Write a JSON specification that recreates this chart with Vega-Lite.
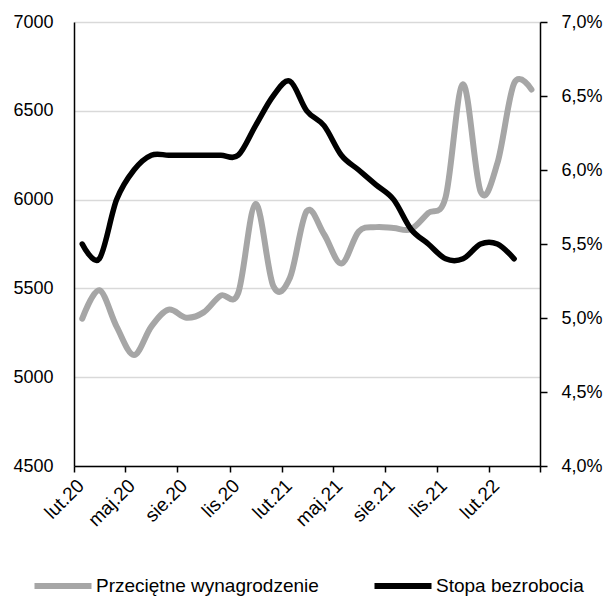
{
  "$schema": "https://vega.github.io/schema/vega-lite/v6.json",
  "width": 466,
  "height": 444,
  "autosize": {"type": "none"},
  "padding": {"left": 74, "top": 22, "right": 65, "bottom": 131},
  "config": {
    "font": "Liberation Sans",
    "view": {"stroke": null},
    "axis": {
      "labelFontSize": 18,
      "labelColor": "#000000",
      "labelFont": "Liberation Sans",
      "domainColor": "#000000",
      "domainWidth": 1.5,
      "tickColor": "#000000",
      "tickWidth": 1.5,
      "gridColor": "#d9d9d9",
      "gridWidth": 1.5,
      "title": null
    }
  },
  "data": {
    "values": [
      {"date": "2020-02-01", "wage": 5330, "rate": 5.5},
      {"date": "2020-03-01", "wage": 5490, "rate": 5.4},
      {"date": "2020-04-01", "wage": 5285, "rate": 5.8},
      {"date": "2020-05-01", "wage": 5125, "rate": 6.0},
      {"date": "2020-06-01", "wage": 5285, "rate": 6.1},
      {"date": "2020-07-01", "wage": 5380, "rate": 6.1},
      {"date": "2020-08-01", "wage": 5335, "rate": 6.1},
      {"date": "2020-09-01", "wage": 5365, "rate": 6.1},
      {"date": "2020-10-01", "wage": 5460, "rate": 6.1},
      {"date": "2020-11-01", "wage": 5475, "rate": 6.1},
      {"date": "2020-12-01", "wage": 5975, "rate": 6.3},
      {"date": "2021-01-01", "wage": 5515, "rate": 6.5},
      {"date": "2021-02-01", "wage": 5560, "rate": 6.6},
      {"date": "2021-03-01", "wage": 5935, "rate": 6.4},
      {"date": "2021-04-01", "wage": 5805, "rate": 6.3},
      {"date": "2021-05-01", "wage": 5640, "rate": 6.1},
      {"date": "2021-06-01", "wage": 5820, "rate": 6.0},
      {"date": "2021-07-01", "wage": 5845, "rate": 5.9},
      {"date": "2021-08-01", "wage": 5840, "rate": 5.8},
      {"date": "2021-09-01", "wage": 5833, "rate": 5.6},
      {"date": "2021-10-01", "wage": 5925, "rate": 5.5},
      {"date": "2021-11-01", "wage": 6015, "rate": 5.4},
      {"date": "2021-12-01", "wage": 6650, "rate": 5.4},
      {"date": "2022-01-01", "wage": 6045, "rate": 5.5},
      {"date": "2022-02-01", "wage": 6205, "rate": 5.5},
      {"date": "2022-03-01", "wage": 6655, "rate": 5.4},
      {"date": "2022-04-01", "wage": 6620, "rate": null}
    ]
  },
  "encoding": {
    "x": {
      "field": "date",
      "type": "temporal",
      "timeUnit": "utcyearmonth",
      "bandPosition": 0.5,
      "scale": {
        "type": "utc",
        "nice": false,
        "domain": [
          {"year": 2020, "month": 2, "date": 1, "utc": true},
          {"year": 2022, "month": 5, "date": 1, "utc": true}
        ]
      },
      "axis": {
        "values": [
          {"year": 2020, "month": 2, "date": 1, "utc": true},
          {"year": 2020, "month": 5, "date": 1, "utc": true},
          {"year": 2020, "month": 8, "date": 1, "utc": true},
          {"year": 2020, "month": 11, "date": 1, "utc": true},
          {"year": 2021, "month": 2, "date": 1, "utc": true},
          {"year": 2021, "month": 5, "date": 1, "utc": true},
          {"year": 2021, "month": 8, "date": 1, "utc": true},
          {"year": 2021, "month": 11, "date": 1, "utc": true},
          {"year": 2022, "month": 2, "date": 1, "utc": true},
          {"year": 2022, "month": 5, "date": 1, "utc": true}
        ],
        "grid": false,
        "tickSize": 6,
        "labelAngle": -45,
        "labelFontSize": 19,
        "labelOffset": 0,
        "labelPadding": 4,
        "labelOverlap": false,
        "labelBound": false,
        "labelFlush": false,
        "labelExpr": "(utcyear(datum.value) == 2022 && utcmonth(datum.value) == 4) ? '' : ['sty','lut','mar','kwi','maj','cze','lip','sie','wrz','paź','lis','gru'][utcmonth(datum.value)] + '.' + utcFormat(datum.value, '%y')"
      }
    }
  },
  "layer": [
    {
      "mark": {"type": "line", "interpolate": "cardinal", "strokeWidth": 6, "strokeCap": "round", "strokeJoin": "round"},
      "encoding": {
        "y": {
          "field": "wage",
          "type": "quantitative",
          "scale": {"domain": [4500, 7000], "nice": false, "zero": false},
          "axis": {
            "orient": "left",
            "values": [4500, 5000, 5500, 6000, 6500, 7000],
            "grid": true,
            "ticks": false,
            "labelPadding": 21,
            "format": "d"
          }
        },
        "color": {
          "datum": "Przeciętne wynagrodzenie",
          "type": "nominal",
          "scale": {"domain": ["Przeciętne wynagrodzenie", "Stopa bezrobocia"], "range": ["#a6a6a6", "#000000"]},
          "legend": {
            "orient": "none",
            "legendX": -43,
            "legendY": 532,
            "direction": "horizontal",
            "columns": 2,
            "symbolType": "stroke",
            "symbolSize": 3250,
            "symbolStrokeWidth": 6,
            "labelFontSize": 19,
            "labelColor": "#000000",
            "labelLimit": 400,
            "labelOffset": 1,
            "columnPadding": 43,
            "padding": 0,
            "title": null
          }
        }
      }
    },
    {
      "mark": {"type": "line", "interpolate": "cardinal", "strokeWidth": 5.5, "strokeCap": "round", "strokeJoin": "round"},
      "encoding": {
        "y": {
          "field": "rate",
          "type": "quantitative",
          "scale": {"domain": [4, 7], "nice": false, "zero": false},
          "axis": {
            "orient": "right",
            "values": [4, 4.5, 5, 5.5, 6, 6.5, 7],
            "grid": false,
            "tickSize": 7,
            "labelPadding": 14,
            "labelExpr": "replace(format(datum.value, '.1f'), '.', ',') + '%'"
          }
        },
        "color": {"datum": "Stopa bezrobocia", "type": "nominal"}
      }
    }
  ],
  "resolve": {"scale": {"y": "independent"}, "axis": {"y": "independent"}}
}
